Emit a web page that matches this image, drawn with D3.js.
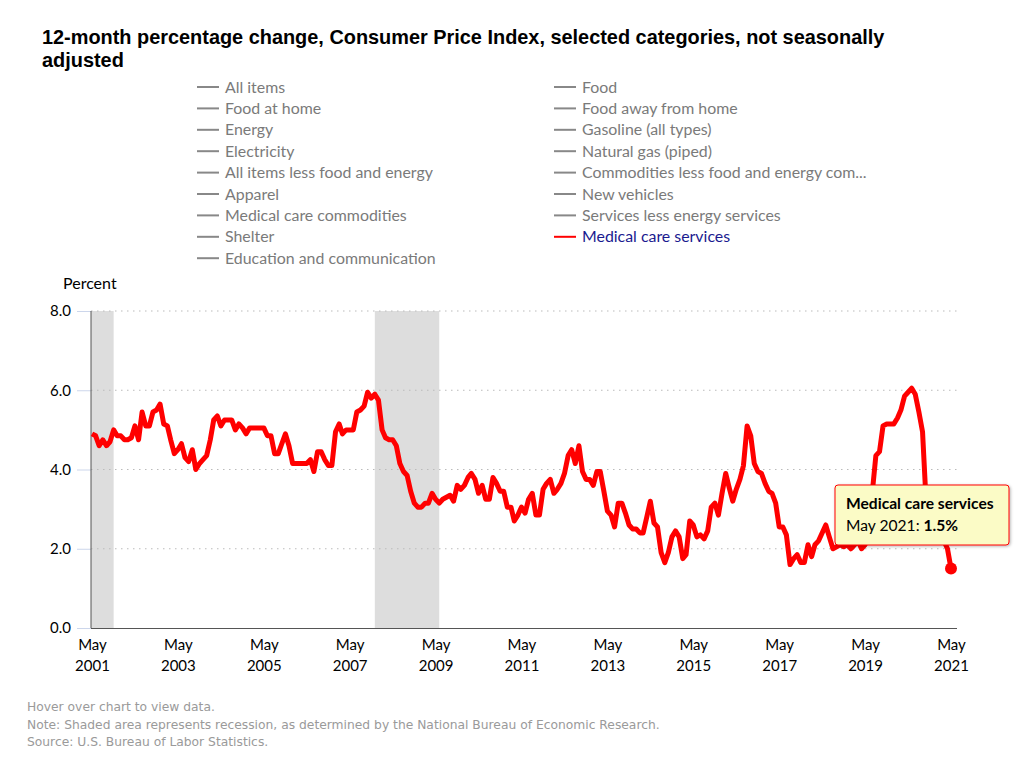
<!DOCTYPE html>
<html>
<head>
<meta charset="utf-8">
<script src="https://cdn.jsdelivr.net/npm/d3@7"></script>
<style>
  body { margin: 0; background: #fff; }
  svg { display: block; }
</style>
</head>
<body>
<div id="container"></div>
<script>
/* CONSTANTS AND GLOBALS */
const width = 1024,
  height = 767,
  margin = {top: 311, bottom: 139, left: 91, right: 67};

/* DATA */
const seriesName = "Medical care services";
const startMonth = new Date(2001, 4, 1); // May 2001

// 12-month % change, May 2001 .. May 2021 (one value per month)
const medicalCareServices = [
  4.9, 4.85, 4.6, 4.75, 4.6, 4.7, 5.0, 4.85, 4.85, 4.75, 4.75, 4.8,
  5.1, 4.75, 5.45, 5.1, 5.1, 5.45, 5.5, 5.65, 5.15, 5.1, 4.75, 4.4,
  4.5, 4.65, 4.3, 4.2, 4.5, 4.0, 4.15, 4.25, 4.35, 4.75, 5.25, 5.35,
  5.1, 5.25, 5.25, 5.25, 5.0, 5.15, 5.05, 4.9, 5.05, 5.05, 5.05, 5.05,
  5.05, 4.85, 4.85, 4.4, 4.4, 4.65, 4.9, 4.6, 4.15, 4.15, 4.15, 4.15,
  4.15, 4.25, 3.95, 4.45, 4.45, 4.25, 4.1, 4.1, 4.95, 5.15, 4.9, 5.0,
  5.0, 5.0, 5.45, 5.5, 5.6, 5.95, 5.8, 5.9, 5.75, 5.0, 4.8, 4.75,
  4.75, 4.6, 4.15, 3.95, 3.85, 3.45, 3.15, 3.05, 3.05, 3.15, 3.15, 3.4,
  3.25, 3.15, 3.25, 3.3, 3.35, 3.2, 3.6, 3.5, 3.6, 3.8, 3.9, 3.75,
  3.4, 3.6, 3.25, 3.25, 3.8, 3.65, 3.45, 3.45, 3.05, 3.05, 2.7, 2.85,
  3.05, 2.9, 3.25, 3.4, 2.85, 2.85, 3.5, 3.65, 3.75, 3.4, 3.5, 3.65,
  3.9, 4.35, 4.5, 4.15, 4.6, 3.95, 3.75, 3.75, 3.6, 3.95, 3.95, 3.45,
  2.95, 2.85, 2.55, 3.15, 3.15, 2.9, 2.6, 2.5, 2.5, 2.4, 2.4, 2.8,
  3.2, 2.65, 2.55, 1.9, 1.65, 1.9, 2.3, 2.45, 2.3, 1.75, 1.85, 2.7,
  2.6, 2.3, 2.35, 2.25, 2.45, 3.05, 3.15, 2.85, 3.4, 3.9, 3.55, 3.2,
  3.5, 3.75, 4.1, 5.1, 4.85, 4.15, 3.95, 3.9, 3.65, 3.45, 3.4, 3.15,
  2.55, 2.55, 2.35, 1.6, 1.75, 1.85, 1.65, 1.65, 2.1, 1.8, 2.1, 2.2,
  2.4, 2.6, 2.3, 2.0, 2.05, 2.1, 2.05, 2.1, 2.0, 2.1, 2.2, 2.0,
  2.1, 2.3, 3.4, 4.35, 4.45, 5.1, 5.15, 5.15, 5.15, 5.3, 5.5, 5.85,
  5.95, 6.05, 5.9, 5.45, 4.95, 3.2, 2.9, 2.7, 2.5, 2.4, 2.2, 2.0,
  1.5
];

// NBER recessions [start, end]
const recessions = [
  [new Date(2001, 2, 1), new Date(2001, 10, 1)],
  [new Date(2007, 11, 1), new Date(2009, 5, 1)]
];

const yTicks = [0, 2, 4, 6, 8];
const xTickYears = [2001, 2003, 2005, 2007, 2009, 2011, 2013, 2015, 2017, 2019, 2021];

const legendLeft = [
  "All items", "Food at home", "Energy", "Electricity",
  "All items less food and energy", "Apparel", "Medical care commodities",
  "Shelter", "Education and communication"
];
const legendRight = [
  "Food", "Food away from home", "Gasoline (all types)", "Natural gas (piped)",
  "Commodities less food and energy com...", "New vehicles",
  "Services less energy services", "Medical care services"
];

const footNotes = [
  "Hover over chart to view data.",
  "Note: Shaded area represents recession, as determined by the National Bureau of Economic Research.",
  "Source: U.S. Bureau of Labor Statistics."
];

const data = medicalCareServices.map((v, i) => ({
  date: d3.timeMonth.offset(startMonth, i),
  value: v
}));

/* SVG */
const svg = d3.select("#container")
  .append("svg")
  .attr("width", width)
  .attr("height", height)
  .style("font-family", "Lato, 'Open Sans', sans-serif");

const defs = svg.append("defs");
const shadow = defs.append("filter")
  .attr("id", "shadow")
  .attr("x", "-20%").attr("y", "-20%")
  .attr("width", "140%").attr("height", "160%");
shadow.append("feDropShadow")
  .attr("dx", 1).attr("dy", 1)
  .attr("stdDeviation", 1.5)
  .attr("flood-color", "#000")
  .attr("flood-opacity", 0.3);

// TITLE
const title = svg.append("text")
  .attr("x", 42)
  .attr("y", 44)
  .style("font-family", "'Liberation Sans', Arial, sans-serif")
  .style("font-weight", "bold")
  .style("font-size", "19.9px")
  .attr("fill", "#000");
title.append("tspan").attr("x", 42).attr("dy", 0)
  .text("12-month percentage change, Consumer Price Index, selected categories, not seasonally");
title.append("tspan").attr("x", 42).attr("dy", 23).text("adjusted");

// LEGEND
const legendRow = 21.4;
function drawLegend(items, x0) {
  const g = svg.append("g").attr("transform", `translate(${x0},87)`);
  const item = g.selectAll("g")
    .data(items)
    .join("g")
    .attr("transform", (d, i) => `translate(0,${i * legendRow})`);
  item.append("line")
    .attr("x1", 0).attr("x2", 22)
    .attr("stroke", d => d === seriesName ? "#ff0000" : "#888")
    .attr("stroke-width", 2);
  item.append("text")
    .attr("x", 28)
    .attr("dy", "0.35em")
    .style("font-size", "15.9px")
    .attr("fill", d => d === seriesName ? "#1a1a8f" : "#7a7a7a")
    .text(d => d);
}
drawLegend(legendLeft, 197);
drawLegend(legendRight, 554);

// SCALES
const xScale = d3.scaleTime()
  .domain([startMonth, data[data.length - 1].date])
  .range([92, 951]);

const yScale = d3.scaleLinear()
  .domain([0, 8])
  .range([height - margin.bottom, margin.top]);

const plotRight = width - margin.right;

// RECESSIONS
svg.append("g")
  .selectAll("rect")
  .data(recessions)
  .join("rect")
  .attr("x", d => Math.max(margin.left, xScale(d[0])))
  .attr("width", d => xScale(d[1]) - Math.max(margin.left, xScale(d[0])))
  .attr("y", yScale(8))
  .attr("height", yScale(0) - yScale(8))
  .attr("fill", "#dddddd");

// GRID
svg.append("g")
  .selectAll("line")
  .data(yTicks.filter(d => d > 0))
  .join("line")
  .attr("x1", margin.left).attr("x2", plotRight)
  .attr("y1", d => yScale(d)).attr("y2", d => yScale(d))
  .attr("stroke", "#bbbbbb")
  .attr("stroke-dasharray", "1.5,4.5");

// Y AXIS
const yAxis = d3.axisLeft(yScale)
  .tickValues(yTicks)
  .tickFormat(d3.format(".1f"))
  .tickSize(14)
  .tickPadding(6);

const yAxisGroup = svg.append("g")
  .attr("transform", `translate(${margin.left},0)`)
  .call(yAxis);
yAxisGroup.select(".domain").remove();
yAxisGroup.selectAll(".tick line").attr("stroke", "#ccd6eb");
yAxisGroup.selectAll(".tick text")
  .style("font-family", "Lato, sans-serif")
  .style("font-size", "15px")
  .attr("fill", "#000");

svg.append("line")
  .attr("x1", margin.left).attr("x2", margin.left)
  .attr("y1", yScale(8)).attr("y2", yScale(0))
  .attr("stroke", "#555");

svg.append("text")
  .attr("x", 63)
  .attr("y", 289)
  .style("font-size", "16px")
  .attr("fill", "#000")
  .text("Percent");

// X AXIS
const xAxis = d3.axisBottom(xScale)
  .tickValues(xTickYears.map(y => new Date(y, 4, 1)))
  .tickSize(0)
  .tickFormat("");

const xAxisGroup = svg.append("g")
  .attr("transform", `translate(0,${yScale(0)})`)
  .call(xAxis);
xAxisGroup.select(".domain")
  .attr("d", `M${margin.left},0.5H${plotRight}`)
  .attr("stroke", "#555");

xAxisGroup.selectAll(".tick text").remove();
const xTick = xAxisGroup.selectAll(".tick");
xTick.append("text")
  .attr("y", 22)
  .attr("text-anchor", "middle")
  .style("font-family", "Lato, sans-serif")
  .style("font-size", "15px")
  .attr("fill", "#000")
  .text("May");
xTick.append("text")
  .attr("y", 43)
  .attr("text-anchor", "middle")
  .style("font-family", "Lato, sans-serif")
  .style("font-size", "15px")
  .attr("fill", "#000")
  .text(d => d.getFullYear());

// LINE
const lineGen = d3.line()
  .x(d => xScale(d.date))
  .y(d => yScale(d.value));

svg.append("path")
  .datum(data)
  .attr("fill", "none")
  .attr("stroke", "#ff0000")
  .attr("stroke-width", 5)
  .attr("stroke-linejoin", "round")
  .attr("d", lineGen);

const last = data[data.length - 1];
svg.append("circle")
  .attr("cx", xScale(last.date))
  .attr("cy", yScale(last.value))
  .attr("r", 6)
  .attr("fill", "#ff0000");

// TOOLTIP
const tip = svg.append("g").attr("transform", "translate(835,485)");
tip.append("rect")
  .attr("width", 174)
  .attr("height", 60)
  .attr("rx", 3)
  .attr("fill", "#fbfbc6")
  .attr("stroke", "#ff0000")
  .attr("stroke-width", 1)
  .attr("filter", "url(#shadow)");
tip.append("text")
  .attr("x", 11).attr("y", 24)
  .style("font-size", "15.6px")
  .style("font-weight", "bold")
  .attr("fill", "#000")
  .text(seriesName);
const tipLine = tip.append("text")
  .attr("x", 11).attr("y", 46)
  .style("font-size", "15.6px")
  .attr("fill", "#000");
tipLine.append("tspan").text(`${d3.timeFormat("%b %Y")(last.date)}: `);
tipLine.append("tspan").style("font-weight", "bold").text(`${last.value.toFixed(1)}%`);

// FOOTNOTES
svg.append("g")
  .selectAll("text")
  .data(footNotes)
  .join("text")
  .attr("x", 27)
  .attr("y", (d, i) => 711 + i * 17.5)
  .style("font-family", "'DejaVu Sans', Verdana, sans-serif")
  .style("font-size", "12.3px")
  .attr("fill", "#9a9a9a")
  .text(d => d);
</script>
</body>
</html>
